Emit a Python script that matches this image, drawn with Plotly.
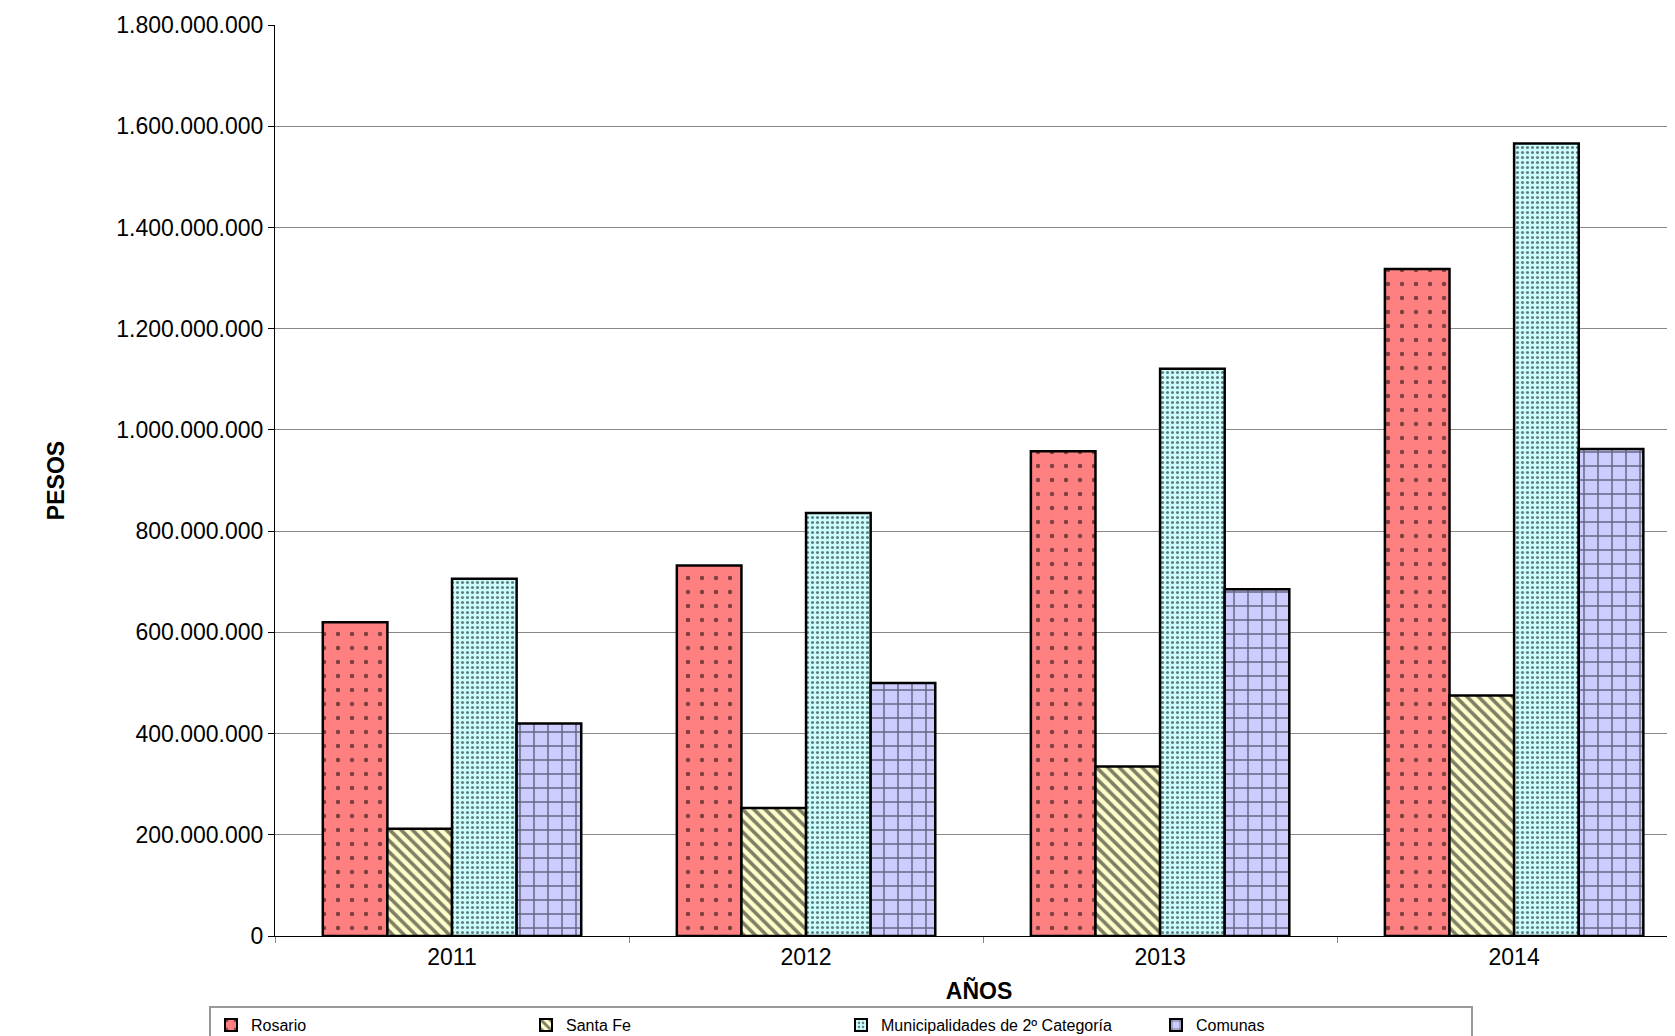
import plotly.graph_objects as go

years = ["2011", "2012", "2013", "2014"]
rosario = [620e6, 732e6, 958e6, 1318e6]
santa_fe = [212e6, 253e6, 335e6, 475e6]
municipalidades = [706e6, 836e6, 1121e6, 1566e6]
comunas = [420e6, 500e6, 685e6, 962e6]

series = [
    ("Rosario", rosario, "#FF8080", ".", 14, 0.08),
    ("Santa Fe", santa_fe, "#FFFFCC", "\\", 8, 0.45),
    ("Municipalidades de 2º Categoría", municipalidades, "#CCFFFF", ".", 5, 0.3),
    ("Comunas", comunas, "#CCCCFF", "+", 14, 0.2),
]

fig = go.Figure()
for name, vals, color, shape, size, sol in series:
    fig.add_trace(go.Bar(
        x=years, y=vals, name=name,
        marker=dict(color=color, line=dict(color="black", width=2.5),
                    pattern=dict(shape=shape, fgcolor="black", bgcolor=color,
                                 size=size, solidity=sol, fillmode="overlay")),
    ))

fig.update_layout(
    width=1675, height=1036,
    margin=dict(l=267, r=0, t=17, b=108, autoexpand=False),
    paper_bgcolor="white", plot_bgcolor="white",
    separators=",.",
    barmode="group", bargap=0.27, bargroupgap=0,
    font=dict(family="Liberation Sans, Arial", color="black"),
    showlegend=True,
    legend=dict(orientation="h", x=0.12, xref="container", y=0, yref="container",
                yanchor="bottom", entrywidth=270, font=dict(size=16),
                bordercolor="#999999", borderwidth=2,
                itemsizing="constant"),
)
fig.update_xaxes(range=[-0.5, 3.477], showline=True, linecolor="black",
                 ticks="outside", tickcolor="#888888", ticklen=6,
                 tickson="boundaries", tickfont=dict(size=23),
                 title=dict(text="<b>AÑOS</b>", font=dict(size=23), standoff=14))
fig.update_yaxes(range=[0, 1.8e9], dtick=2e8, tickformat=",d",
                 showline=True, linecolor="black", ticks="outside",
                 tickcolor="black", ticklen=6,
                 gridcolor="#888888", gridwidth=1, tickfont=dict(size=23),
                 title=dict(text="<b>PESOS</b>", font=dict(size=23), standoff=45))

fig.write_html("out.html")
